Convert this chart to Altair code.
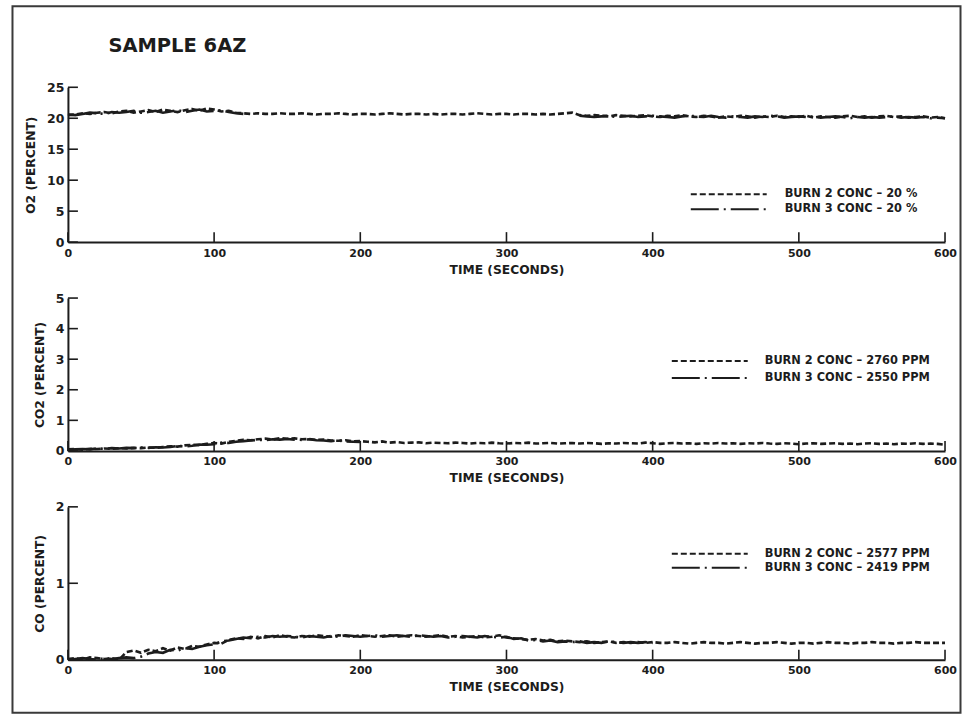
import altair as alt
import pandas as pd

# Sampling instants (seconds) shared by every trace
TIME = list(range(0, 601, 5))

# O2 traces (percent); burn 3 recorder had a gap mid-run
O2_BURN2 = [
    20.5, 20.6, 20.8, 20.7, 20.9, 21.0, 20.8, 21.1, 21.2, 20.9,
    21.1, 21.3, 21.0, 21.4, 21.2, 21.0, 21.3, 21.5, 21.2, 21.6,
    21.4, 21.1, 21.2, 20.9, 20.8, 20.7, 20.8, 20.7, 20.7, 20.8,
    20.7, 20.7, 20.8, 20.7, 20.6, 20.7, 20.7, 20.8, 20.7, 20.6,
    20.7, 20.7, 20.6, 20.7, 20.8, 20.7, 20.6, 20.7, 20.7, 20.6,
    20.7, 20.6, 20.7, 20.7, 20.6, 20.7, 20.8, 20.7, 20.6, 20.7,
    20.7, 20.6, 20.7, 20.7, 20.6, 20.7, 20.6, 20.7, 20.8, 20.9,
    20.5, 20.4, 20.5, 20.4, 20.3, 20.5, 20.4, 20.3, 20.4, 20.5,
    20.3, 20.2, 20.4, 20.3, 20.5, 20.3, 20.2, 20.4, 20.3, 20.1,
    20.3, 20.2, 20.4, 20.3, 20.1, 20.3, 20.2, 20.4, 20.2, 20.3,
    20.2, 20.4, 20.1, 20.3, 20.2, 20.1, 20.3, 20.4, 20.2, 20.3,
    20.1, 20.3, 20.4, 20.2, 20.3, 20.1, 20.2, 20.3, 20.1, 20.2,
    20.0,
]
O2_BURN3 = [
    20.6, 20.5, 20.7, 20.9, 20.8, 20.7, 21.0, 20.9, 21.0, 21.2,
    20.9, 21.0, 21.2, 20.9, 21.1, 21.3, 21.0, 21.2, 21.4, 21.1,
    21.2, 21.3, 21.0, 20.8, 20.7, None, None, None, None, None,
    None, None, None, None, None, None, None, None, None, None,
    None, None, None, None, None, None, None, None, None, None,
    None, None, None, None, None, None, None, None, None, None,
    None, None, None, None, None, None, None, None, None, None,
    20.4, 20.3, 20.2, 20.3, 20.4, 20.2, 20.3, 20.4, 20.2, 20.3,
    20.4, 20.3, 20.2, 20.1, 20.3, 20.4, 20.3, 20.2, 20.4, 20.2,
    20.1, 20.3, 20.2, 20.1, 20.3, 20.2, 20.4, 20.3, 20.1, 20.2,
    20.3, 20.2, 20.3, 20.1, 20.2, 20.3, 20.2, 20.0, 20.2, 20.1,
    20.2, 20.1, 20.2, 20.3, 20.1, 20.2, 20.1, 20.2, 20.0, 20.1,
    20.0,
]

# CO2 traces (percent)
CO2_BURN2 = [
    0.05, 0.06, 0.04, 0.07, 0.06, 0.08, 0.07, 0.09, 0.08, 0.10,
    0.09, 0.11, 0.10, 0.13, 0.15, 0.14, 0.18, 0.20, 0.19, 0.23,
    0.26, 0.24, 0.30, 0.33, 0.36, 0.35, 0.38, 0.40, 0.37, 0.42,
    0.40, 0.41, 0.38, 0.39, 0.36, 0.37, 0.34, 0.33, 0.35, 0.31,
    0.32, 0.30, 0.28, 0.31, 0.27, 0.29, 0.26, 0.27, 0.28, 0.25,
    0.27, 0.26, 0.25, 0.27, 0.26, 0.24, 0.26, 0.25, 0.27, 0.25,
    0.24, 0.26, 0.25, 0.27, 0.24, 0.25, 0.26, 0.24, 0.25, 0.26,
    0.24, 0.26, 0.25, 0.23, 0.25, 0.24, 0.26, 0.25, 0.24, 0.27,
    0.25, 0.23, 0.25, 0.26, 0.24, 0.25, 0.23, 0.25, 0.24, 0.26,
    0.24, 0.25, 0.23, 0.25, 0.24, 0.26, 0.24, 0.23, 0.25, 0.24,
    0.22, 0.24, 0.25, 0.23, 0.24, 0.25, 0.23, 0.24, 0.22, 0.24,
    0.25, 0.23, 0.24, 0.22, 0.24, 0.23, 0.25, 0.23, 0.24, 0.23,
    0.20,
]
CO2_BURN3 = [
    0.04, 0.05, 0.06, 0.05, 0.08, 0.07, 0.09, 0.08, 0.10, 0.09,
    0.11, 0.10, 0.12, 0.11, 0.13, 0.16, 0.15, 0.17, 0.21, 0.20,
    0.22, 0.27, 0.26, 0.30, 0.32, 0.34, 0.36, 0.35, 0.38, 0.37,
    0.39, 0.37, 0.36, 0.38, 0.35, 0.34, 0.32, 0.34, 0.31, 0.30,
    0.29,
]

# CO traces (percent)
CO_BURN2 = [
    0.01, 0.02, 0.00, 0.03, 0.02, 0.01, 0.02, 0.00, 0.10, 0.12,
    0.09, 0.13, 0.11, 0.15, 0.12, 0.16, 0.14, 0.18, 0.17, 0.20,
    0.22, 0.21, 0.26, 0.28, 0.27, 0.30, 0.28, 0.31, 0.29, 0.32,
    0.30, 0.29, 0.31, 0.30, 0.32, 0.31, 0.30, 0.32, 0.31, 0.30,
    0.32, 0.31, 0.30, 0.31, 0.32, 0.30, 0.31, 0.32, 0.31, 0.30,
    0.31, 0.32, 0.30, 0.31, 0.29, 0.30, 0.31, 0.29, 0.30, 0.32,
    0.29, 0.28, 0.27, 0.26, 0.27, 0.25, 0.26, 0.24, 0.25, 0.24,
    0.23, 0.24, 0.22, 0.23, 0.24, 0.22, 0.23, 0.22, 0.23, 0.22,
    0.23, 0.22, 0.22, 0.23, 0.22, 0.21, 0.22, 0.23, 0.22, 0.22,
    0.21, 0.22, 0.23, 0.22, 0.21, 0.22, 0.22, 0.23, 0.22, 0.21,
    0.22, 0.22, 0.21, 0.22, 0.23, 0.22, 0.22, 0.21, 0.22, 0.22,
    0.23, 0.22, 0.22, 0.21, 0.22, 0.22, 0.23, 0.22, 0.22, 0.22,
    0.22,
]
CO_BURN3 = [
    0.00, 0.01, 0.02, 0.01, 0.00, 0.02, 0.01, 0.02, 0.03, 0.02,
    0.04, 0.08, 0.10, 0.09, 0.13, 0.12, 0.15, 0.14, 0.17, 0.19,
    0.20, 0.24, 0.25, 0.27, 0.29, 0.28, 0.30, 0.29, 0.31, 0.30,
    0.31, 0.30, 0.29, 0.31, 0.30, 0.29, 0.31, 0.30, 0.32, 0.31,
    0.30, 0.31, 0.32, 0.30, 0.31, 0.32, 0.31, 0.30, 0.32, 0.31,
    0.30, 0.31, 0.29, 0.30, 0.31, 0.30, 0.29, 0.31, 0.30, 0.29,
    0.30, 0.27, 0.28, 0.25, 0.26, 0.24, 0.25, 0.23, 0.24, 0.23,
    0.24, 0.22, 0.23, 0.22, 0.24, 0.23, 0.22, 0.23, 0.22, 0.23,
    0.22,
]

X_TICKS = [0, 100, 200, 300, 400, 500, 600]
O2_TICKS = [0, 5, 10, 15, 20, 25]
CO2_TICKS = [0, 1, 2, 3, 4, 5]
CO_TICKS = [0, 1, 2]

O2_LABELS = ["BURN 2 CONC \u2013 20 %", "BURN 3 CONC \u2013 20 %"]
CO2_LABELS = ["BURN 2 CONC \u2013 2760 PPM", "BURN 3 CONC \u2013 2550 PPM"]
CO_LABELS = ["BURN 2 CONC \u2013 2577 PPM", "BURN 3 CONC \u2013 2419 PPM"]

# short dashes for burn 2, long dash-dot for burn 3
DASHES = [[6, 3], [28, 5, 2, 5]]
INK = "#1c1c1c"
FONT = "DejaVu Sans"
PLOT_W = 878


def trace_table(labels, burn2, burn3):
    rows = []
    for label, values in zip(labels, (burn2, burn3)):
        seg = 0
        for t, v in zip(TIME, values):
            if v is None:
                seg += 1
                continue
            rows.append({"t": t, "v": v, "burn": label, "seg": f"{label}-{seg}"})
    return pd.DataFrame(rows)


def panel(labels, burn2, burn3, ymax, yticks, ytitle, height, legend):
    data = trace_table(labels, burn2, burn3)
    x_scale = alt.Scale(domain=[0, 600], nice=False, zero=False)
    y_scale = alt.Scale(domain=[0, ymax], nice=False)
    x_axis = alt.Axis(values=X_TICKS, format=".0f", title="TIME (SECONDS)", labelOverlap=False)
    y_axis = alt.Axis(values=yticks, format=".0f", title=ytitle, labelOverlap=False)

    traces = alt.Chart(data).mark_line(strokeWidth=2.6, color=INK, strokeCap="butt").encode(
        x=alt.X("t:Q", scale=x_scale, axis=x_axis),
        y=alt.Y("v:Q", scale=y_scale, axis=y_axis),
        strokeDash=alt.StrokeDash(
            "burn:N",
            scale=alt.Scale(domain=labels, range=DASHES),
            legend=alt.Legend(
                orient="none", legendX=legend["x"], legendY=legend["y"], title=None,
                symbolType="stroke", symbolSize=76 * 76, symbolStrokeWidth=2,
                symbolStrokeColor=INK, clipHeight=legend["row"], rowPadding=legend["gap"],
                padding=0, labelOffset=legend["offset"], labelFont=FONT,
                labelFontSize=11.4, labelFontWeight="bold", labelColor=INK,
                labelLimit=0,
            ),
        ),
        detail="seg:N",
    )

    # inward tick marks on both axes, placed through the same scales
    y_ticks = alt.Chart(pd.DataFrame({"v": yticks})).mark_rule(
        color=INK, strokeWidth=1.6
    ).encode(y=alt.Y("v:Q", scale=y_scale, axis=y_axis), x=alt.value(0), x2=alt.value(10))
    x_ticks = alt.Chart(pd.DataFrame({"t": X_TICKS})).mark_rule(
        color=INK, strokeWidth=1.6
    ).encode(x=alt.X("t:Q", scale=x_scale, axis=x_axis),
             y=alt.value(height), y2=alt.value(height - 10))

    return [traces, y_ticks, x_ticks], height


o2_layers, o2_h = panel(O2_LABELS, O2_BURN2, O2_BURN3, 25, O2_TICKS, "O2 (PERCENT)", 155,
                        {"x": 622.5, "y": 99.5, "row": 15, "gap": 0, "offset": 17})
co2_layers, co2_h = panel(CO2_LABELS, CO2_BURN2, CO2_BURN3, 5, CO2_TICKS, "CO2 (PERCENT)", 153,
                          {"x": 603.5, "y": 55.5, "row": 15, "gap": 2, "offset": 16})
co_layers, co_h = panel(CO_LABELS, CO_BURN2, CO_BURN3, 2, CO_TICKS, "CO (PERCENT)", 153,
                        {"x": 603.5, "y": 40, "row": 14, "gap": 0, "offset": 16})

# sheet heading and the frame around the whole sheet
heading = alt.Chart(pd.DataFrame({"title": ["SAMPLE 6AZ"]})).mark_text(
    align="left", baseline="middle", font=FONT, fontSize=19.5, fontWeight="bold", color=INK
).encode(text="title:N", x=alt.value(40.5), y=alt.value(-41))
frame = alt.Chart(pd.DataFrame({"k": [0]})).mark_rect(
    fillOpacity=0, stroke="#3a3a3a", strokeWidth=2
).encode(x=alt.value(-55.5), x2=alt.value(893.5), y=alt.value(-81), y2=alt.value(626))

top = alt.layer(*o2_layers, frame, heading).properties(width=PLOT_W, height=o2_h)
mid = alt.layer(*co2_layers).properties(width=PLOT_W, height=co2_h)
bottom = alt.layer(*co_layers).properties(width=PLOT_W, height=co_h)

chart = alt.vconcat(top, mid, bottom, spacing=56, bounds="flush").resolve_scale(
    x="independent", y="independent", strokeDash="independent"
).resolve_legend(strokeDash="independent").properties(
    padding={"left": 11, "top": 5, "right": 3, "bottom": 1},
    background="white",
).configure_view(stroke=None).configure_axis(
    grid=False, ticks=False, domainColor=INK, domainWidth=2,
    labelFont=FONT, labelFontWeight="bold", labelColor=INK,
    titleFont=FONT, titleFontWeight="bold", titleColor=INK,
).configure_axisX(
    labelFontSize=11, labelPadding=5, titleFontSize=12.3, titlePadding=5, labelFlush=False,
).configure_axisY(
    labelFontSize=12.5, labelPadding=4, titleFontSize=12.3, titlePadding=9,
)

chart.save("out.html", embed_options={"renderer": "svg", "actions": False})
